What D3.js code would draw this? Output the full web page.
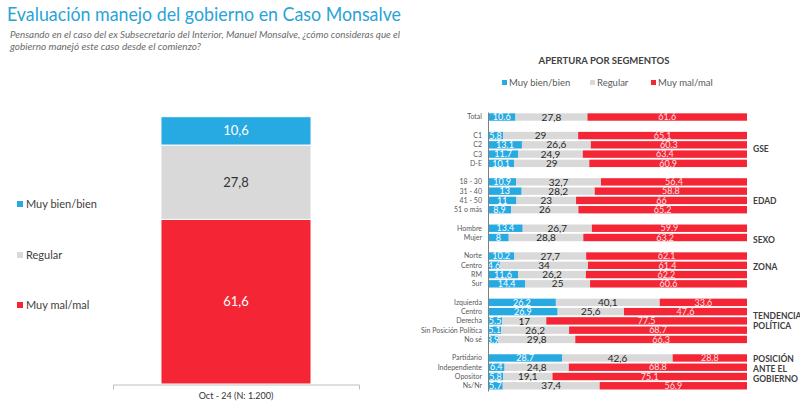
<!DOCTYPE html>
<html><head><meta charset="utf-8">
<script src="https://cdn.jsdelivr.net/npm/d3@7"></script>
<style>
html,body{margin:0;padding:0;background:#fff;}
svg{display:block;font-family:Lato,"Open Sans",sans-serif;}
</style></head>
<body>
<svg id="c" width="800" height="406"></svg>
<script>
// ---------- DATA ----------
const seriesNames = ["Muy bien/bien", "Regular", "Muy mal/mal"];
const colors = ["#27a9e1", "#d9d9d9", "#f42636"];

const mainCategory = ["Oct - 24 (N: 1.200)"];
const mainValues = [10.6, 27.8, 61.6];

const segLabels = ["Total","C1","C2","C3","D-E","18 - 30","31 - 40","41 - 50","51 o más","Hombre","Mujer","Norte","Centro","RM","Sur","Izquierda","Centro","Derecha","Sin Posición Política","No sé","Partidario","Independiente","Opositor","Ns/Nr"];
const segGroups = ["T","GSE","GSE","GSE","GSE","EDAD","EDAD","EDAD","EDAD","SEXO","SEXO","ZONA","ZONA","ZONA","ZONA","TEN","TEN","TEN","TEN","TEN","POS","POS","POS","POS"];
const segBien = [10.6,5.8,13.1,11.7,10.1,10.9,13,11,8.9,13.4,8,10.2,4.6,11.6,14.4,26.2,26.9,5.5,5.1,3.9,28.7,6.4,5.8,5.7];
const segRegular = [27.8,29,26.6,24.9,29,32.7,28.2,23,26,26.7,28.8,27.7,34,26.2,25,40.1,25.6,17,26.2,29.8,42.6,24.8,19.1,37.4];
const segMal = [61.6,65.1,60.3,63.4,60.9,56.4,58.8,66,65.2,59.9,63.2,62.1,61.4,62.2,60.6,33.6,47.6,77.5,68.7,66.3,28.8,68.8,75.1,56.9];
const groupTitles = {GSE:["GSE"], EDAD:["EDAD"], SEXO:["SEXO"], ZONA:["ZONA"], TEN:["TENDENCIA","POLÍTICA"], POS:["POSICIÓN","ANTE EL","GOBIERNO"]};

// ---------- SETUP ----------
const svg = d3.select("#c");
const fmtC = v => String(v).replace(".", ",");
const fmtP = v => String(v);

// Title
svg.append("text").attr("x", 7).attr("y", 21)
  .attr("font-size", 20).attr("fill", "#29a3d8")
  .attr("textLength", 394).attr("lengthAdjust", "spacingAndGlyphs")
  .text("Evaluación manejo del gobierno en Caso Monsalve");
const sub = ["Pensando en el caso del ex Subsecretario del Interior, Manuel Monsalve, ¿cómo consideras que el",
             "gobierno manejó este caso desde el comienzo?"];
svg.append("text").attr("x", 10).attr("y", 38).attr("font-size", 10).attr("font-style", "italic")
  .attr("fill", "#6b6b6b").attr("textLength", 390).attr("lengthAdjust", "spacingAndGlyphs").text(sub[0]);
svg.append("text").attr("x", 10).attr("y", 50).attr("font-size", 10).attr("font-style", "italic")
  .attr("fill", "#6b6b6b").text(sub[1]);

// ---------- LEFT CHART ----------
const xL = d3.scaleBand().domain(mainCategory).range([113, 359]).paddingInner(0.39).paddingOuter(0.195);
const yL = d3.scaleLinear().domain([0, 100]).range([384, 116.7]);
let cum = 0;
const stackMain = mainValues.map((v, i) => { const s = {i, v, y0: cum, y1: cum + v}; cum += v; return s; });
// draw so blue on top: Muy mal at bottom
const order = [2, 1, 0];
let acc = 0;
const stackL = order.map(i => { const s = {i, v: mainValues[i], y0: acc, y1: acc + mainValues[i]}; acc += mainValues[i]; return s; });
const gL = svg.append("g");
gL.selectAll("rect").data(stackL).join("rect")
  .attr("x", xL(mainCategory[0])).attr("width", xL.bandwidth())
  .attr("y", d => yL(d.y1)).attr("height", d => yL(d.y0) - yL(d.y1))
  .attr("fill", d => colors[d.i]).attr("stroke", "#fff").attr("stroke-width", 1);
gL.selectAll("text.v").data(stackL).join("text").attr("class", "v")
  .attr("x", xL(mainCategory[0]) + xL.bandwidth() / 2)
  .attr("y", d => yL((d.y0 + d.y1) / 2)).attr("dy", "0.35em")
  .attr("text-anchor", "middle").attr("font-size", 13)
  .attr("fill", d => d.i === 1 ? "#333" : "#fff")
  .text(d => fmtC(d.v));
const axL = svg.append("g").attr("transform", "translate(0,384.5)")
  .call(d3.axisBottom(xL).tickSizeInner(0).tickSizeOuter(5).tickPadding(8));
axL.select(".domain").attr("stroke", "#bfbfbf");
axL.selectAll("text").attr("font-size", 9).attr("fill", "#333").attr("font-family", "Lato");

// left legend
const legL = svg.append("g");
const legY = [204, 255, 305];
seriesNames.forEach((n, i) => {
  legL.append("rect").attr("x", 17).attr("y", legY[i] - 3).attr("width", 6).attr("height", 6).attr("fill", colors[i]);
  legL.append("text").attr("x", 26).attr("y", legY[i]).attr("dy", "0.35em")
    .attr("font-size", 11).attr("fill", "#404040").text(n);
});

// ---------- RIGHT CHART ----------
// slot index: insert empty slot between groups
const slots = [];
let s = 0;
segGroups.forEach((g, i) => { if (i > 0 && g !== segGroups[i - 1]) s++; slots.push(s); s++; });
const nSlots = s;
const yR = d3.scaleBand().domain(d3.range(nSlots)).range([112.4, 390.4]).paddingInner(0.2).paddingOuter(0.1);
const xR = d3.scaleLinear().domain([0, 100]).range([488, 747]);

const rows = segLabels.map((l, i) => ({l, i, slot: slots[i], vals: [segBien[i], segRegular[i], segMal[i]]}));
const gR = svg.append("g");
rows.forEach(r => {
  let a = 0;
  r.vals.forEach((v, k) => {
    const x0 = a, x1 = k === 2 ? 100 : a + v;
    gR.append("rect").attr("x", xR(x0)).attr("width", xR(x1) - xR(x0))
      .attr("y", yR(r.slot)).attr("height", yR.bandwidth()).attr("fill", colors[k]);
    const cy = yR(r.slot) + yR.bandwidth() / 2;
    gR.append("text").attr("x", (xR(x0) + xR(x1)) / 2).attr("y", cy).attr("dy", "0.36em")
      .attr("text-anchor", "middle")
      .attr("font-size", k === 1 ? 10 : 9)
      .attr("fill", k === 1 ? "#262626" : (k === 0 ? "#fff" : "#fde0e2"))
      .text(k === 1 ? fmtC(v) : fmtP(v));
    a += v;
  });
  gR.append("text").attr("x", 482).attr("y", yR(r.slot) + yR.bandwidth() / 2).attr("dy", "0.35em")
    .attr("text-anchor", "end").attr("font-size", 7).attr("fill", "#595959").text(r.l);
});
// vertical axis line
const axR = svg.append("g").attr("transform", "translate(488,0)")
  .call(d3.axisLeft(d3.scaleLinear().range([112, 391])).ticks(0).tickSize(0));
axR.select(".domain").attr("stroke", "#7f7f7f");
axR.selectAll(".tick").remove();

// group titles
const groupAnchor = {GSE: 3.5, EDAD: 9.1, SEXO: 13.3, ZONA: 16.15, TEN: 22, POS: 27.2};
const lineStep = 1.08;
Object.keys(groupTitles).forEach(g => {
  const lines = groupTitles[g];
  lines.forEach((t, j) => {
    const slotPos = groupAnchor[g] + (j - (lines.length - 1) / 2) * lineStep;
    const y = yR(0) + yR.bandwidth() / 2 + slotPos * yR.step();
    svg.append("text").attr("x", 753).attr("y", y).attr("dy", "0.35em")
      .attr("font-size", 8.5).attr("font-weight", "bold").attr("fill", "#404040").text(t);
  });
});

// right header + legend
svg.append("text").attr("x", 604).attr("y", 61).attr("dy", "0.35em").attr("text-anchor", "middle")
  .attr("font-size", 9.5).attr("font-weight", "bold").attr("fill", "#404040").text("APERTURA POR SEGMENTOS");
const legRx = [502, 590, 651];
seriesNames.forEach((n, i) => {
  svg.append("rect").attr("x", legRx[i]).attr("y", 80).attr("width", 5).attr("height", 5).attr("fill", colors[i]);
  svg.append("text").attr("x", legRx[i] + 7).attr("y", 83).attr("dy", "0.35em")
    .attr("font-size", 9.5).attr("fill", "#595959").text(n);
});
</script>
</body></html>
